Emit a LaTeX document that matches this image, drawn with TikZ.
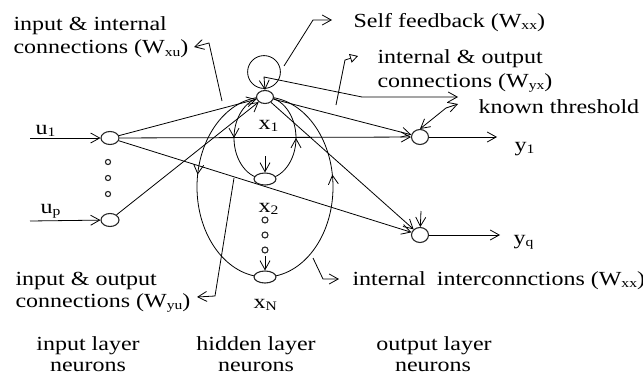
\documentclass[tikz,border=0pt]{standalone}
\usepackage{fontspec}
\setmainfont[FakeStretch=1.2]{Liberation Serif}
\usetikzlibrary{arrows.meta,shapes.geometric,decorations.markings,backgrounds}
\newcommand{\sbs}[1]{\raisebox{-0.25ex}{\fontsize{6.5}{7}\selectfont #1}}
\begin{document}
\begin{tikzpicture}[x=0.5pt,y=-0.5pt, line width=0.55pt, draw=black!85,
  tip/.style={-{Straight Barb[length=4.5pt,width=5pt]}},
  both/.style={{Straight Barb[length=4.5pt,width=5pt]}-{Straight Barb[length=4.5pt,width=5pt]}},
  flag/.style={-{Triangle[open,length=4pt,width=4.5pt]}},
  midtip/.style={postaction={decorate}, decoration={markings,
     mark=at position #1 with {\arrow{Straight Barb[length=4.5pt,width=5pt]}}}},
  neuron/.style={draw, ellipse, fill=white, inner sep=0pt, minimum width=8.5pt, minimum height=6.5pt},
  wneuron/.style={neuron, minimum width=11pt, minimum height=6pt},
  dotc/.style={draw, circle, fill=white, inner sep=0pt, minimum size=#1},
  lbl/.style={anchor=base west, inner sep=0pt, font=\fontsize{10}{11.5}\selectfont},
  clbl/.style={anchor=base, inner sep=0pt, font=\fontsize{10}{11.5}\selectfont}]
\useasboundingbox (0,0) rectangle (643,375);

% neurons
\node[neuron, minimum width=9pt] (u1) at (110,138) {};
\node[neuron, minimum width=9pt] (up) at (110,220) {};
\node[neuron] (x1) at (265,97) {};
\node[wneuron] (x2) at (265,179) {};
\node[wneuron] (xN) at (265,277) {};
\node[neuron, minimum height=7.5pt] (y1) at (420,137) {};
\node[neuron, minimum height=7.5pt] (yq) at (420,235) {};

% dots
\node[dotc=2.6pt] (d1) at (108,162) {};
\node[dotc=2.6pt] (d2) at (108,178) {};
\node[dotc=2.6pt] (d3) at (108,194) {};
\node[dotc=3pt] (h1) at (265,220) {};
\node[dotc=3pt] (h2) at (265,235) {};
\node[dotc=3pt] (h3) at (265,250) {};

% coordinates
\coordinate (inu1) at (30,138);
\coordinate (inup) at (30,221);
\coordinate (outy1) at (497,137);
\coordinate (outyq) at (500,235);
\coordinate (sx2) at (265,156);
\coordinate (sxN) at (265,256);
\coordinate (syq) at (421,211);
\coordinate (loopc) at (264,72);
\coordinate (thrA) at (264,77);
\coordinate (thrB) at (362,97);
\coordinate (thrC) at (458,97);
\coordinate (thrD) at (446,108);
\coordinate (thrE) at (458,104);
\coordinate (sfA) at (284,66);
\coordinate (sfB) at (313,20);
\coordinate (sfC) at (332,20);
\coordinate (iiA) at (222,101);
\coordinate (iiB) at (209,43);
\coordinate (iiC) at (194,47);
\coordinate (ioA) at (336,105);
\coordinate (ioB) at (345,60);
\coordinate (ioC) at (358,56);
\coordinate (ipA) at (234,178);
\coordinate (ipB) at (215,296);
\coordinate (ipC) at (197,297);
\coordinate (icA) at (313,258);
\coordinate (icB) at (323,279);
\coordinate (icC) at (339,279);

% labels
\node[lbl] (lu1) at (35,134) {u\sbs{1}};
\node[lbl] (lup) at (40,213) {u\sbs{p}};
\node[lbl] (lx1) at (258,129) {x\sbs{1}};
\node[lbl] (lx2) at (258,212) {x\sbs{2}};
\node[lbl] (lxN) at (253,308) {x\sbs{N}};
\node[lbl] (ly1) at (514,151) {y\sbs{1}};
\node[lbl] (lyq) at (513,244) {y\sbs{q}};

\node[lbl] (t1a) at (13,31) {input \& internal};
\node[lbl] (t1b) at (13,54) {connections (W\sbs{xu})};
\node[lbl] (t2) at (353,27) {Self feedback (W\sbs{xx})};
\node[lbl] (t3a) at (377,63) {internal \& output};
\node[lbl] (t3b) at (377,87) {connections (W\sbs{yx})};
\node[lbl] (t4) at (478,113) {known threshold};
\node[lbl] (t5a) at (15,285) {input \& output};
\node[lbl] (t5b) at (15,307) {connections (W\sbs{yu})};
\node[lbl] (t6) at (352,285) {internal\hspace{0.25em} interconnctions (W\sbs{xx})};

\node[clbl] (b1a) at (88,350) {input layer};
\node[clbl] (b1b) at (88,371) {neurons};
\node[clbl] (b2a) at (256,350) {hidden layer};
\node[clbl] (b2b) at (256,371) {neurons};
\node[clbl] (b3a) at (434,350) {output layer};
\node[clbl] (b3b) at (433,371) {neurons};

\begin{scope}[on background layer]
  % inputs and outputs
  \draw[tip] (inu1) -- (u1);
  \draw[tip] (inup) -- (up);
  \draw[tip] (y1) -- (outy1);
  \draw[tip] (yq) -- (outyq);
  % input connections
  \draw[tip] (u1) -- (x1);
  \draw[tip] (up) -- (x1);
  \draw[tip] (u1) -- (y1);
  \draw[tip] (u1) -- (yq);
  % hidden to output
  \draw[tip] (x1) -- (y1);
  \draw[tip] (x1) -- (yq);
  % internal loops
  \draw[midtip=0.45] (x1.center) arc[start angle=90, end angle=270, x radius=34pt, y radius=45pt];
  \draw[midtip=0.55] (xN.center) arc[start angle=270, end angle=450, x radius=34pt, y radius=45pt];
  \draw[midtip=0.5] (x1.center) arc[start angle=90, end angle=270, x radius=15.5pt, y radius=20.5pt];
  \draw[midtip=0.5] (x2.center) arc[start angle=270, end angle=450, x radius=15.5pt, y radius=20.5pt];
  % stubs
  \draw[tip] (sx2) -- (x2);
  \draw[tip] (sxN) -- (xN);
  \draw[tip] (syq) -- (yq);
  % self loop
  \draw (loopc) circle[radius=8.2pt];
  % threshold
  \draw[both] (x1.north) -- (thrA) -- (thrB) -- (thrC);
  \draw[both] (y1.north) -- (thrD) -- (thrE);
  % leaders
  \draw[tip] (sfA) -- (sfB) -- (sfC);
  \draw[tip] (iiA) -- (iiB) -- (iiC);
  \draw[flag] (ioA) -- (ioB) -- (ioC);
  \draw[tip] (ipA) -- (ipB) -- (ipC);
  \draw[tip] (icA) -- (icB) -- (icC);
\end{scope}
\end{tikzpicture}
\end{document}
